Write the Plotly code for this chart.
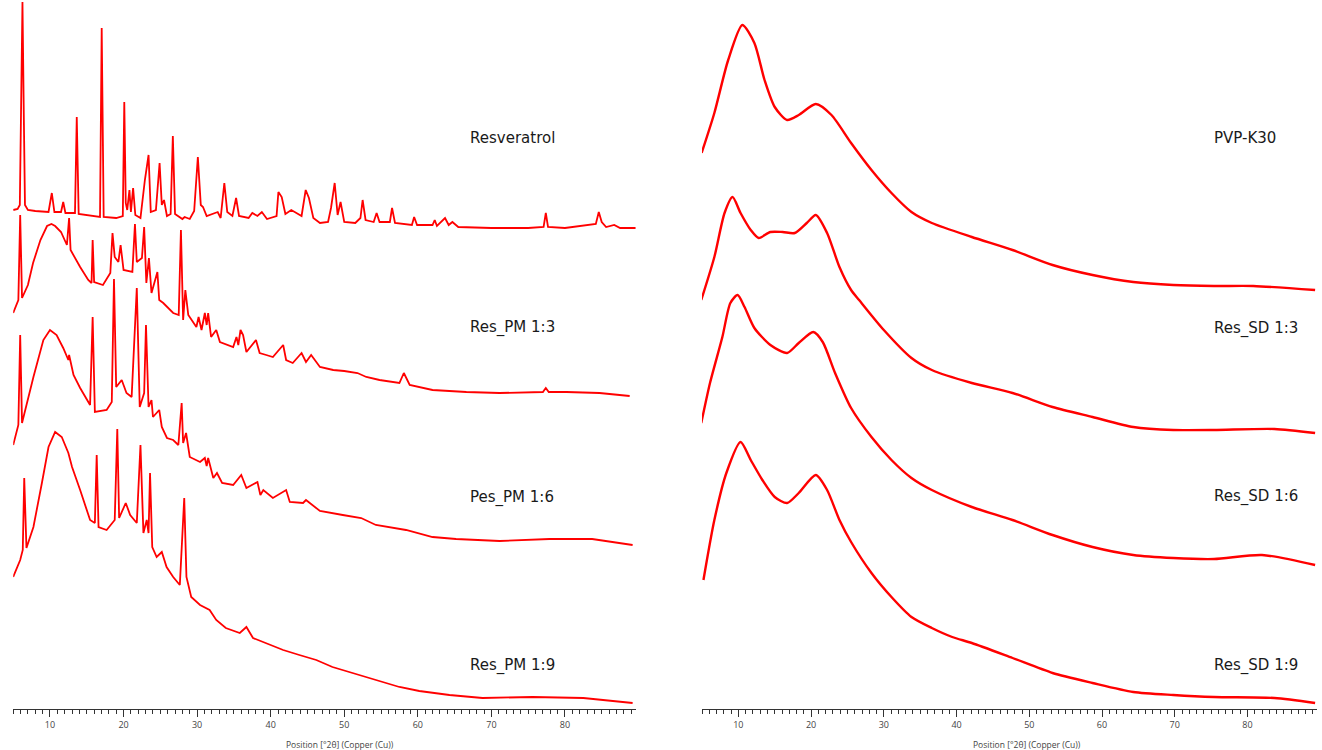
import plotly.graph_objects as go

# ---------------- Panel (a) : physical mixtures ----------------
# 2theta positions (deg) and stacked intensities (a.u., incl. vertical offset)
res_x = [5.0, 5.6, 5.9, 6.1, 6.26, 6.45, 6.6, 7.0, 8.0, 9.8, 10.25, 10.6, 11.5, 11.8, 12.1, 13.4, 13.64, 13.9,
         15.5, 16.8, 17.03, 17.3, 19.0, 19.9, 20.1, 20.3, 20.5, 20.8, 21.0, 21.3, 21.6, 22.3, 22.9, 23.4, 23.7,
         24.4, 24.9, 25.2, 25.5, 25.9, 26.4, 26.7, 27.0, 28.0, 28.3, 29.0, 29.6, 30.1, 30.5, 30.8, 31.3, 32.8,
         33.2, 33.7, 34.1, 34.8, 35.3, 35.7, 37.0, 37.5, 38.2, 38.8, 39.5, 40.8, 41.05, 41.5, 42.0, 42.8, 43.5,
         44.2, 44.76, 45.2, 45.8, 46.7, 47.8, 48.2, 48.7, 49.1, 49.5, 50.0, 51.5, 52.2, 52.5, 52.9, 54.0, 54.4,
         54.8, 56.2, 56.5, 56.9, 59.2, 59.5, 59.9, 62.0, 62.3, 62.6, 63.7, 64.2, 64.7, 65.5, 70.0, 75.0, 77.1,
         77.4, 77.7, 80.0, 84.2, 84.6, 85.0, 85.6, 86.7, 87.5, 89.6]
res_y = [499, 500, 504, 609, 707, 589, 504, 499, 498, 497, 516, 497, 497, 507, 496, 496, 592, 495,
         493, 492, 681, 492, 491, 493, 607, 506, 499, 519, 497, 521, 494, 491, 529, 554, 497,
         499, 546, 504, 509, 493, 495, 573, 495, 490, 492, 490, 498, 552, 504, 502, 493, 497,
         491, 526, 497, 493, 511, 493, 491, 496, 493, 497, 490, 493, 517, 512, 495, 499, 496,
         493, 519, 511, 491, 486, 487, 501, 526, 494, 507, 487, 486, 491, 509, 489, 487, 496,
         487, 487, 501, 486, 484, 492, 484, 484, 489, 483, 491, 484, 487, 482, 481, 481, 482,
         496, 482, 481, 485, 497, 487, 482, 484, 481, 481]

pm13_x = [5.0, 5.7, 5.95, 6.2, 7.0, 7.7, 8.7, 9.6, 10.2, 10.7, 11.5, 12.3, 12.6, 12.8, 14.1, 15.2, 15.65, 15.8,
          16.0, 17.2, 18.2, 18.5, 18.8, 19.3, 19.6, 20.0, 21.2, 21.55, 21.8, 22.5, 22.8, 23.1, 23.45, 23.8,
          24.6, 24.85, 25.4, 26.75, 27.5, 27.8, 28.1, 28.4, 28.8, 29.9, 30.2, 30.6, 31.05, 31.3, 31.5, 31.9,
          32.6, 33.1, 34.9, 35.35, 35.6, 35.9, 36.25, 36.7, 38.0, 38.5, 39.4, 40.3, 41.7, 42.1, 43.0, 44.2,
          44.8, 45.5, 46.7, 48.5, 50.0, 51.8, 53.0, 54.8, 57.5, 58.1, 58.9, 62.0, 66.6, 71.1, 77.0, 77.4,
          77.8, 80.2, 84.7, 88.8]
pm13_y = [396, 409, 494, 411, 424, 446, 469, 483, 485, 483, 477, 464, 491, 459, 442, 429, 426, 469,
          427, 424, 436, 476, 452, 447, 464, 439, 437, 485, 447, 451, 482, 426, 451, 416,
          437, 409, 406, 396, 394, 479, 389, 419, 394, 382, 392, 379, 396, 384, 396, 372,
          379, 367, 362, 372, 364, 379, 374, 357, 369, 356, 354, 352, 364, 349, 346, 356,
          347, 354, 342, 339, 338, 336, 332, 329, 326, 336, 324, 319, 317, 316, 317, 321,
          317, 317, 316, 313]

pm16_x = [5.0, 5.7, 5.95, 6.2, 7.75, 9.1, 10.0, 10.9, 11.8, 12.5, 12.6, 13.2, 14.1, 15.45, 15.8, 16.1, 17.7,
          18.4, 18.7, 19.0, 19.75, 20.4, 21.1, 21.8, 22.2, 22.8, 23.05, 23.4, 23.8, 24.0, 24.85, 25.2, 25.9,
          26.75, 27.45, 27.9, 28.1, 28.5, 29.0, 30.4, 31.05, 31.3, 31.5, 32.2, 32.7, 33.4, 34.9, 36.0, 36.7,
          38.2, 38.6, 39.0, 40.3, 42.1, 42.6, 44.4, 44.8, 45.3, 46.7, 49.8, 52.3, 54.3, 58.4, 62.0, 65.2,
          71.1, 77.9, 83.7, 89.2]
pm16_y = [264, 284, 374, 286, 332, 369, 379, 374, 361, 349, 354, 334, 321, 304, 392, 297, 299,
          307, 430, 322, 329, 316, 312, 421, 302, 316, 384, 302, 309, 292, 299, 282, 271,
          269, 264, 306, 266, 276, 252, 247, 251, 243, 251, 231, 236, 226, 224, 234, 221,
          227, 214, 219, 211, 219, 207, 206, 209, 206, 198, 194, 191, 184, 179, 172, 170,
          168, 170, 170, 164]

pm19_x = [5.0, 5.95, 6.3, 6.5, 6.8, 7.75, 8.9, 9.8, 10.7, 11.6, 12.5, 13.0, 14.1, 15.45, 16.1, 16.35, 16.6,
          17.7, 18.8, 19.15, 19.4, 20.3, 20.9, 21.8, 22.3, 22.7, 23.15, 23.4, 23.6, 23.9, 24.5, 25.2, 25.85,
          26.75, 27.65, 28.25, 28.55, 29.2, 30.4, 31.7, 32.6, 33.9, 35.8, 36.7, 37.6, 39.4, 41.7, 43.9,
          46.2, 48.4, 53.0, 57.5, 60.2, 64.3, 68.8, 75.6, 82.5, 89.2]
pm19_y = [132, 149, 159, 231, 161, 182, 226, 262, 277, 272, 256, 242, 219, 189, 186, 254, 182,
          179, 189, 280, 191, 206, 194, 186, 264, 176, 189, 176, 236, 162, 152, 157, 142,
          132, 124, 211, 132, 112, 104, 99, 89, 81, 76, 82, 71, 66, 59, 54,
          49, 42, 32, 22, 18, 14, 11, 12, 11, 6]

# ---------------- Panel (b) : solid dispersions ----------------
pvp_x = [4.95, 6.7, 8.6, 10.55, 12.2, 13.6, 15.0, 16.7, 18.3, 20.65, 22.8, 25.5, 28.3, 31.05, 33.8, 36.6,
         42.1, 47.7, 53.2, 58.7, 64.3, 69.8, 75.4, 80.8, 89.3]
pvp_y = [556, 596, 649, 684, 666, 629, 602, 589, 594, 605, 594, 566, 539, 516, 497, 486,
         472, 459, 444, 434, 427, 424, 423, 423, 419]

sd13_x = [4.9, 6.7, 8.1, 9.2, 10.3, 11.7, 12.8, 14.4, 16.1, 17.75, 19.4, 20.65, 22.2, 23.9, 25.5, 26.6,
          30.0, 33.8, 36.6, 42.1, 47.7, 53.2, 58.7, 64.3, 69.8, 75.4, 83.7, 89.3]
sd13_y = [409, 452, 496, 512, 496, 479, 471, 477, 477, 476, 486, 494, 476, 442, 419, 409,
          379, 351, 339, 326, 316, 302, 292, 282, 279, 279, 280, 276]

sd16_x = [4.9, 6.1, 7.8, 8.9, 9.9, 10.85, 12.2, 14.4, 16.7, 18.3, 20.3, 21.6, 23.3, 25.5, 28.3, 31.05,
          33.8, 36.6, 42.1, 47.7, 53.2, 58.7, 64.3, 69.8, 75.4, 82.0, 89.3]
sd16_y = [286, 326, 372, 406, 414, 402, 381, 364, 356, 366, 377, 367, 336, 301, 272, 249,
          231, 219, 202, 189, 174, 162, 154, 151, 150, 154, 144]

sd19_x = [5.2, 6.7, 8.35, 10.3, 11.7, 13.3, 15.0, 16.7, 18.3, 20.65, 22.2, 23.9, 25.5, 28.3, 31.05, 33.8,
          36.6, 39.4, 42.1, 47.7, 53.2, 58.7, 64.3, 69.8, 75.4, 83.7, 89.3]
sd19_y = [129, 189, 236, 267, 249, 229, 212, 206, 216, 234, 219, 189, 167, 136, 112, 92,
          81, 72, 66, 51, 36, 26, 17, 14, 12, 11, 6]

labels_a = ["Resveratrol", "Res_PM 1:3", "Pes_PM 1:6", "Res_PM 1:9"]
labels_b = ["PVP-K30", "Res_SD 1:3", "Res_SD 1:6", "Res_SD 1:9"]
tick_vals = [10, 20, 30, 40, 50, 60, 70, 80]
axis_title = "Position [°2θ] (Copper (Cu))"

RED = "#ff0000"
fig = go.Figure()

for xs, ys in [(res_x, res_y), (pm13_x, pm13_y), (pm16_x, pm16_y), (pm19_x, pm19_y)]:
    fig.add_trace(go.Scatter(x=xs, y=ys, mode="lines", xaxis="x", yaxis="y",
                             line=dict(color=RED, width=1.8), showlegend=False, hoverinfo="skip"))
for xs, ys in [(pvp_x, pvp_y), (sd13_x, sd13_y), (sd16_x, sd16_y), (sd19_x, sd19_y)]:
    fig.add_trace(go.Scatter(x=xs, y=ys, mode="lines", xaxis="x2", yaxis="y2",
                             line=dict(color=RED, width=2.4, shape="spline", smoothing=0.7),
                             showlegend=False, hoverinfo="skip"))

axis_common = dict(
    showgrid=False, zeroline=False, showline=True, linecolor="#333", linewidth=1,
    ticks="outside", ticklen=7, tickwidth=1, tickcolor="#333",
    tickvals=tick_vals, ticktext=[str(v) for v in tick_vals],
    tickfont=dict(family="Open Sans", size=9, color="#444"),
    minor=dict(dtick=1, tick0=0, ticks="outside", ticklen=4, tickwidth=1, tickcolor="#333"),
)
fig.update_layout(
    width=1322, height=750,
    margin=dict(l=0, r=0, t=0, b=41),
    paper_bgcolor="white", plot_bgcolor="white",
    xaxis=dict(domain=[13.2 / 1322, 636 / 1322], range=[5, 89.66], anchor="y", **axis_common),
    yaxis=dict(domain=[0, 1], range=[0, 709], visible=False, anchor="x"),
    xaxis2=dict(domain=[702 / 1322, 1317 / 1322], range=[5, 89.56], anchor="y2", **axis_common),
    yaxis2=dict(domain=[0, 1], range=[0, 709], visible=False, anchor="x2"),
)

label_font = dict(family="DejaVu Sans", size=15, color="#1a1a1a")
label_y = [571, 382, 212, 44]
for txt, yy in zip(labels_a, label_y):
    fig.add_annotation(x=66.8, y=yy, xref="x", yref="y", text=txt, showarrow=False,
                       xanchor="left", yanchor="middle", font=label_font)
for txt, yy in zip(labels_b, [571, 381, 213, 44]):
    fig.add_annotation(x=75.1, y=yy, xref="x2", yref="y2", text=txt, showarrow=False,
                       xanchor="left", yanchor="middle", font=label_font)

fig.add_annotation(x=88.0, y=-22, xref="x", yref="y", text="(a)", showarrow=False,
                   xanchor="center", yanchor="middle", font=dict(family="DejaVu Sans", size=18, color="#1a1a1a"))
fig.add_annotation(x=87.1, y=-23, xref="x2", yref="y2", text="(b)", showarrow=False,
                   xanchor="center", yanchor="middle", font=dict(family="DejaVu Sans", size=18, color="#1a1a1a"))

fig.add_annotation(x=340 / 1322, y=-35 / 709, xref="paper", yref="paper", text=axis_title, showarrow=False,
                   xanchor="center", yanchor="middle", font=dict(family="Open Sans", size=8.5, color="#444"))
fig.add_annotation(x=1027 / 1322, y=-35 / 709, xref="paper", yref="paper", text=axis_title, showarrow=False,
                   xanchor="center", yanchor="middle", font=dict(family="Open Sans", size=8.5, color="#444"))

fig.write_html("out.html")
